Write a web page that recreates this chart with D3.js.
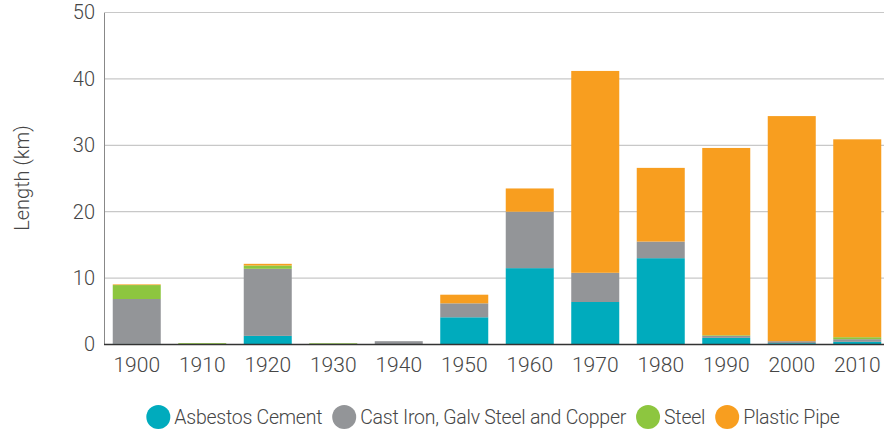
<!DOCTYPE html>
<html>
<head>
<meta charset="utf-8">
<script src="https://cdn.jsdelivr.net/npm/d3@7"></script>
<style>
  html, body { margin: 0; padding: 0; background: #fff; }
  svg { display: block; font-family: Roboto, "Open Sans", sans-serif; }
</style>
</head>
<body>
<svg id="chart" width="884" height="431"></svg>
<script>
// Pipe length by decade of installation, stacked by material (km)
const decades = ["1900", "1910", "1920", "1930", "1940", "1950", "1960", "1970", "1980", "1990", "2000", "2010"];
const asbestosCement = [0.1, 0, 1.3, 0, 0, 4.1, 11.5, 6.4, 13.0, 1.0, 0.2, 0.4];
const castIronGalvCopper = [6.75, 0, 10.1, 0.1, 0.5, 2.1, 8.5, 4.4, 2.5, 0.3, 0.3, 0.4];
const steel = [2.1, 0.2, 0.5, 0.1, 0, 0, 0, 0, 0, 0.1, 0, 0.3];
const plasticPipe = [0.1, 0, 0.25, 0, 0, 1.3, 3.5, 30.4, 11.1, 28.2, 33.9, 29.8];

const seriesNames = ["Asbestos Cement", "Cast Iron, Galv Steel and Copper", "Steel", "Plastic Pipe"];
const seriesColors = ["#00abbd", "#939598", "#8dc63f", "#f89e1f"];
const yTicks = [0, 10, 20, 30, 40, 50];

const rows = decades.map((d, i) => ({
  decade: d,
  s0: asbestosCement[i],
  s1: castIronGalvCopper[i],
  s2: steel[i],
  s3: plasticPipe[i]
}));
const keys = ["s0", "s1", "s2", "s3"];
const stacked = d3.stack().keys(keys)(rows);

const svg = d3.select("#chart");
const plotLeft = 104, plotRight = 890, plotTop = 12.5, plotBottom = 344.5;

const x = d3.scaleBand().domain(decades).range([plotLeft, plotRight])
  .paddingInner(0.267).paddingOuter(0.1335);
const y = d3.scaleLinear().domain([0, 50]).range([plotBottom, plotTop]);

const textColor = "#464646";

// horizontal gridlines
svg.append("g")
  .selectAll("line")
  .data(yTicks.filter(t => t > 0))
  .join("line")
  .attr("x1", plotLeft).attr("x2", 884)
  .attr("y1", d => y(d)).attr("y2", d => y(d))
  .attr("stroke", "#c8c8c8").attr("stroke-width", 1.2);

// stacked bars
svg.append("g")
  .selectAll("g")
  .data(stacked)
  .join("g")
  .attr("fill", (d, i) => seriesColors[i])
  .selectAll("rect")
  .data(d => d)
  .join("rect")
  .attr("x", d => x(d.data.decade))
  .attr("width", x.bandwidth())
  .attr("y", d => y(d[1]))
  .attr("height", d => y(d[0]) - y(d[1]));

// y axis
const yAxis = svg.append("g")
  .attr("transform", `translate(${plotLeft},0)`)
  .call(d3.axisLeft(y).tickValues(yTicks).tickSize(0).tickPadding(9));
yAxis.select(".domain").attr("stroke", "#888").attr("stroke-width", 1);
yAxis.selectAll("text")
  .attr("fill", textColor)
  .attr("font-size", 20)
  .attr("font-weight", 300)
  .attr("font-family", "Roboto, sans-serif");

// x axis
const xAxis = svg.append("g")
  .attr("transform", `translate(0,${plotBottom})`)
  .call(d3.axisBottom(x).tickSize(0).tickPadding(13));
xAxis.select(".domain").attr("stroke", "#333").attr("stroke-width", 1.5)
  .attr("d", `M${plotLeft},0H884`);
xAxis.selectAll("text")
  .attr("fill", textColor)
  .attr("font-size", 21)
  .attr("font-weight", 300)
  .attr("font-family", "Roboto, sans-serif");

// y axis title
svg.append("text")
  .attr("transform", `translate(29,178) rotate(-90)`)
  .attr("text-anchor", "middle")
  .attr("fill", textColor)
  .attr("font-size", 20)
  .attr("font-weight", 300)
  .text("Length (km)");

// legend
const legend = svg.append("g");
const r = 12, gapText = 4, gapItem = 10;
let cx = 0;
seriesNames.forEach((name, i) => {
  const item = legend.append("g").attr("transform", `translate(${cx},0)`);
  item.append("circle").attr("cx", r).attr("cy", 0).attr("r", r).attr("fill", seriesColors[i]);
  const t = item.append("text")
    .attr("x", 2 * r + gapText).attr("y", 0).attr("dy", "0.35em")
    .attr("fill", textColor)
    .attr("font-size", 19.5)
    .attr("font-weight", 300)
    .attr("letter-spacing", "-0.25px")
    .text(name);
  cx += 2 * r + gapText + t.node().getComputedTextLength() + gapItem;
});
const legendWidth = cx - gapItem;
legend.attr("transform", `translate(${493 - legendWidth / 2},417)`);
</script>
</body>
</html>
